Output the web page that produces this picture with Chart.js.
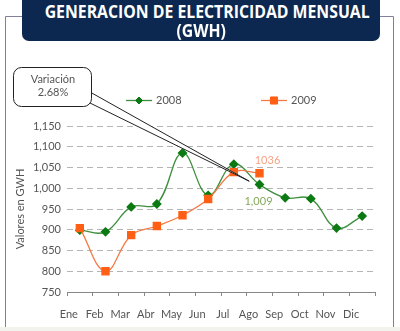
<!DOCTYPE html>
<html>
<head>
<meta charset="utf-8">
<script src="https://cdn.jsdelivr.net/npm/chart.js@4.4.1/dist/chart.umd.min.js"></script>
<style>
  body { margin: 0; background: #fff; }
  #wrap { position: relative; width: 400px; height: 331px; overflow: hidden; }
  #title {
    position: absolute; left: 22px; top: -6px; width: 358px; height: 47px;
    background: #0c2850; border-radius: 7px; color: #fff;
    font-family: "Open Sans", sans-serif; font-weight: bold;
    font-size: 18px; line-height: 19px; text-align: center; padding-top: 8px; box-sizing: border-box;
  }
  #title span { display: inline-block; white-space: nowrap; transform-origin: 50% 50%; }
</style>
</head>
<body>
<div id="wrap">
  <canvas id="grafico" width="400" height="331"></canvas>
  <div id="title"><span id="t1">GENERACION DE ELECTRICIDAD MENSUAL</span><br><span id="t2">(GWH)</span></div>
</div>
<script>
const meses = ["Ene", "Feb", "Mar", "Abr", "May", "Jun", "Jul", "Ago", "Sep", "Oct", "Nov", "Dic"];
const gen2008 = [899, 895, 955, 962, 1085, 983, 1058, 1009, 977, 975, 904, 933];
const gen2009 = [904, 800, 887, 909, 935, 974, 1039, 1036];
const yTicks = [750, 800, 850, 900, 950, 1000, 1050, 1100, 1150];
const variacion = "2.68%";

const fuente = "Lato, 'Open Sans', sans-serif";
const verde = "#3f8f3f";
const naranja = "#f57a45";

// el titulo es mas condensado que la fuente disponible: se comprime a lo ancho
const t1 = document.getElementById("t1");
const escala = 325 / t1.getBoundingClientRect().width;
t1.style.transform = "scaleX(" + escala + ")";
document.getElementById("t2").style.transform = "scaleX(" + escala + ")";

const extras = {
  id: "extras",
  beforeDraw(chart) {
    const ctx = chart.ctx;
    ctx.save();
    ctx.fillStyle = "#fff";
    ctx.fillRect(0, 0, chart.width, chart.height);
    // marco exterior
    ctx.strokeStyle = "#80809a";
    ctx.lineWidth = 1;
    ctx.beginPath();
    ctx.moveTo(5.5, 327);
    ctx.lineTo(5.5, 16.5);
    ctx.lineTo(393.5, 16.5);
    ctx.lineTo(393.5, 327);
    ctx.stroke();
    ctx.fillStyle = "#f3f3ee";
    ctx.fillRect(0, 327, chart.width, 4);
    ctx.restore();
  },
  afterDatasetsDraw(chart) {
    const ctx = chart.ctx;
    const xs = chart.scales.x, ys = chart.scales.y;
    ctx.save();
    ctx.font = "11px " + fuente;
    ctx.textAlign = "center";
    ctx.textBaseline = "middle";

    // etiquetas de agosto
    const iAgo = 7;
    ctx.fillStyle = "#f5a384";
    ctx.fillText(String(gen2009[iAgo]), xs.getPixelForValue(iAgo) + 8, ys.getPixelForValue(gen2009[iAgo]) - 13);
    ctx.fillStyle = "#86a85c";
    ctx.fillText(gen2008[iAgo].toLocaleString("en-US"), xs.getPixelForValue(iAgo) - 1, ys.getPixelForValue(gen2008[iAgo]) + 17);

    // llamada de variacion
    const x6 = xs.getPixelForValue(6), x7 = xs.getPixelForValue(7);
    const tipX = x6 + 0.6 * (x7 - x6), tipY = ys.getPixelForValue(1017);
    ctx.fillStyle = "#fff";
    ctx.strokeStyle = "#222";
    ctx.lineWidth = 1;
    ctx.beginPath();
    ctx.moveTo(90, 92);
    ctx.lineTo(tipX, tipY);
    ctx.lineTo(90, 103);
    ctx.closePath();
    ctx.fill();
    ctx.stroke();
    ctx.beginPath();
    ctx.roundRect(13.5, 67.5, 78, 39, 8);
    ctx.fill();
    ctx.stroke();
    ctx.fillStyle = "#555";
    ctx.fillText("Variación", 53, 79);
    ctx.fillText(variacion, 53, 92);

    // leyenda
    const items = [
      { ds: chart.data.datasets[0], x: 126, r: 3.5 },
      { ds: chart.data.datasets[1], x: 261, r: 5 }
    ];
    const ly = 100.5;
    items.forEach(it => {
      ctx.strokeStyle = it.ds.borderColor;
      ctx.lineWidth = 1.3;
      ctx.beginPath();
      ctx.moveTo(it.x, ly);
      ctx.lineTo(it.x + 26, ly);
      ctx.stroke();
      ctx.fillStyle = it.ds.pointBackgroundColor;
      ctx.strokeStyle = it.ds.pointBorderColor;
      ctx.lineWidth = 1;
      Chart.helpers.drawPoint(ctx, { pointStyle: it.ds.pointStyle, radius: it.r, borderWidth: 1 }, it.x + 13, ly);
      ctx.fillStyle = "#555";
      ctx.textAlign = "left";
      ctx.fillText(it.ds.label, it.x + 30, ly);
    });
    ctx.restore();
  }
};

new Chart(document.getElementById("grafico"), {
  type: "line",
  data: {
    labels: meses,
    datasets: [
      {
        label: "2008",
        data: gen2008,
        borderColor: verde,
        borderWidth: 1.3,
        pointStyle: "rectRot",
        pointRadius: 4,
        pointBackgroundColor: "#0b7a12",
        pointBorderColor: "#0b7a12",
        tension: 0.4,
        order: 2
      },
      {
        label: "2009",
        data: gen2009,
        borderColor: naranja,
        borderWidth: 1.3,
        pointStyle: "rect",
        pointRadius: 5,
        pointBackgroundColor: "#ff5f14",
        pointBorderColor: "#ff5f14",
        tension: 0.4,
        order: 1
      }
    ]
  },
  options: {
    responsive: false,
    animation: false,
    layout: { padding: { top: 126, right: 25, left: 0, bottom: 0 } },
    plugins: { legend: { display: false }, tooltip: { enabled: false } },
    scales: {
      x: {
        offset: true,
        afterFit(scale) { scale.height = 39; },
        grid: { offset: true, drawOnChartArea: false, tickLength: 4, color: "#888" },
        border: { display: true, color: "#888", width: 1 },
        ticks: { color: "#555", font: { family: fuente, size: 11 }, padding: 12, labelOffset: -11, maxRotation: 0, autoSkip: false }
      },
      y: {
        min: yTicks[0],
        max: yTicks[yTicks.length - 1],
        afterFit(scale) { scale.width = 67; },
        afterBuildTicks(scale) { scale.ticks = yTicks.map(v => ({ value: v })); },
        grid: {
          drawTicks: false,
          color: ctx => ctx.tick && ctx.tick.value === yTicks[0] ? "rgba(0,0,0,0)" : "#b4b4b4",
          lineWidth: 1
        },
        border: { display: false, dash: [6, 4] },
        ticks: {
          color: "#555",
          font: { family: fuente, size: 11 },
          padding: 6,
          callback: v => v.toLocaleString("en-US")
        },
        title: {
          display: true,
          text: "Valores en GWH",
          color: "#555",
          font: { family: fuente, size: 11 },
          padding: { top: 14, bottom: 0 }
        }
      }
    }
  },
  plugins: [extras]
});
</script>
</body>
</html>
